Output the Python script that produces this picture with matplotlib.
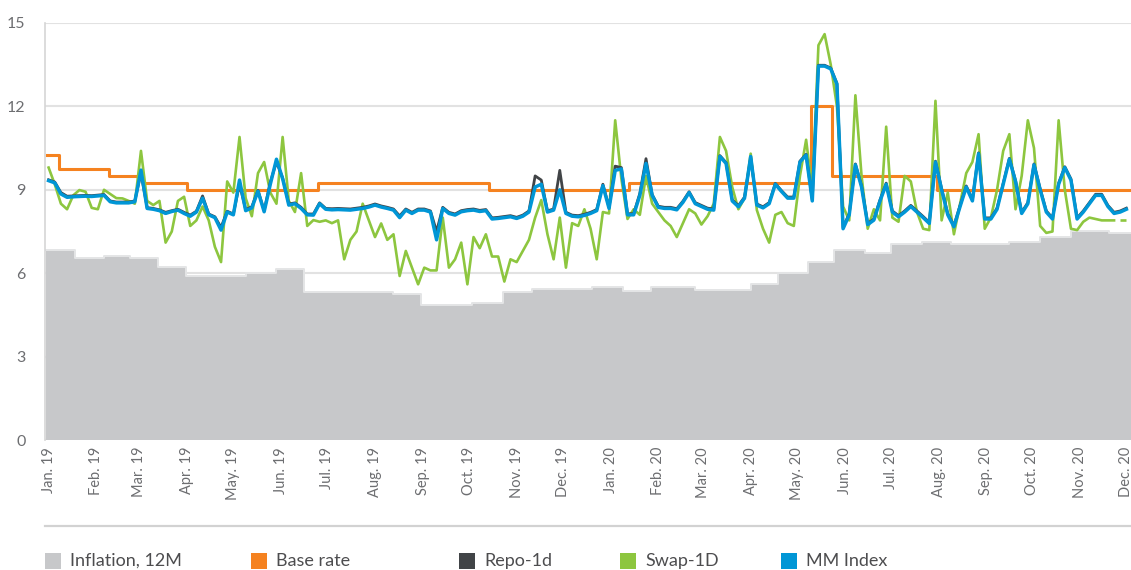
import matplotlib
matplotlib.use("Agg")
import matplotlib.pyplot as plt
import matplotlib.dates as mdates
from matplotlib.patches import Rectangle
from matplotlib.lines import Line2D
import pandas as pd

plt.rcParams['font.family'] = ['Lato', 'DejaVu Sans']

# ---- data ----
# daily-ish series sampled every 4 days from 2019-01-01
obs_dates = pd.date_range('2019-01-01', periods=176, freq='4D')

mm_index = [9.33, 9.25, 8.85, 8.73, 8.75, 8.76, 8.77, 8.76, 8.78, 8.80,
            8.57, 8.53, 8.53, 8.53, 8.57, 9.71, 8.33, 8.30, 8.25, 8.15,
            8.22, 8.27, 8.15, 8.05, 8.20, 8.70, 8.10, 8.00, 7.55, 8.20,
            8.10, 9.35, 8.25, 8.35, 8.95, 8.21, 9.20, 10.10, 9.40, 8.45,
            8.50, 8.33, 8.10, 8.09, 8.50, 8.30, 8.28, 8.29, 8.28, 8.27,
            8.30, 8.33, 8.38, 8.45, 8.38, 8.33, 8.27, 8.00, 8.27, 8.15,
            8.27, 8.27, 8.20, 7.20, 8.33, 8.15, 8.09, 8.21, 8.25, 8.27,
            8.22, 8.25, 7.95, 7.97, 8.00, 8.03, 7.97, 8.05, 8.20, 9.10,
            9.20, 8.20, 8.27, 9.00, 8.15, 8.05, 8.03, 8.08, 8.15, 8.25,
            9.15, 8.33, 9.70, 9.75, 8.10, 8.10, 8.80, 9.95, 8.80, 8.37,
            8.33, 8.33, 8.28, 8.55, 8.90, 8.50, 8.40, 8.30, 8.27, 10.20,
            9.95, 8.60, 8.39, 8.70, 10.20, 8.45, 8.35, 8.50, 9.20, 8.94,
            8.70, 8.70, 10.00, 10.25, 8.60, 13.45, 13.45, 13.35, 12.80, 7.60,
            8.10, 9.90, 9.10, 7.75, 7.91, 8.60, 9.20, 8.20, 8.03, 8.20,
            8.40, 8.20, 8.00, 7.79, 10.00, 9.00, 8.10, 7.67, 8.40, 9.10,
            8.60, 10.30, 7.95, 7.95, 8.30, 9.20, 10.10, 9.30, 8.15, 8.50,
            9.90, 9.00, 8.20, 7.95, 9.20, 9.80, 9.35, 7.95, 8.20, 8.50,
            8.80, 8.80, 8.40, 8.15, 8.20, 8.30]

repo_1d = [9.36, 9.28, 8.90, 8.77, 8.78, 8.79, 8.80, 8.79, 8.81, 8.83,
           8.60, 8.56, 8.56, 8.56, 8.60, 9.60, 8.36, 8.33, 8.28, 8.19,
           8.25, 8.30, 8.19, 8.09, 8.23, 8.78, 8.13, 8.03, 7.65, 8.23,
           8.13, 9.20, 8.29, 8.39, 8.98, 8.25, 9.28, 10.00, 9.43, 8.49,
           8.53, 8.37, 8.13, 8.13, 8.53, 8.33, 8.32, 8.33, 8.32, 8.31,
           8.34, 8.37, 8.42, 8.49, 8.42, 8.37, 8.31, 8.06, 8.31, 8.19,
           8.31, 8.31, 8.24, 7.50, 8.37, 8.19, 8.13, 8.25, 8.29, 8.31,
           8.26, 8.29, 7.99, 8.01, 8.04, 8.07, 8.01, 8.09, 8.24, 9.50,
           9.35, 8.24, 8.31, 9.70, 8.19, 8.09, 8.07, 8.12, 8.19, 8.29,
           9.20, 8.37, 9.85, 9.80, 8.14, 8.14, 8.87, 10.12, 8.83, 8.41,
           8.37, 8.37, 8.32, 8.59, 8.93, 8.54, 8.44, 8.34, 8.31, 10.23,
           9.98, 8.64, 8.43, 8.74, 10.15, 8.49, 8.39, 8.54, 9.23, 8.97,
           8.74, 8.74, 10.03, 10.28, 8.64, 13.48, 13.48, 13.38, 12.83, 7.65,
           8.14, 9.93, 9.14, 7.79, 7.95, 8.64, 9.24, 8.24, 8.07, 8.24,
           8.44, 8.24, 8.04, 7.83, 10.03, 9.04, 8.14, 7.71, 8.44, 9.14,
           8.64, 10.33, 7.99, 7.99, 8.34, 9.24, 10.13, 9.34, 8.19, 8.54,
           9.93, 9.04, 8.24, 7.99, 9.24, 9.83, 9.39, 7.99, 8.24, 8.54,
           8.84, 8.84, 8.44, 8.19, 8.24, 8.34]

swap_1d = [9.80, 9.20, 8.50, 8.30, 8.80, 8.99, 8.93, 8.35, 8.30, 9.00,
           8.85, 8.70, 8.69, 8.60, 8.50, 10.40, 8.60, 8.45, 8.60, 7.10,
           7.50, 8.60, 8.75, 7.70, 7.90, 8.40, 7.90, 6.95, 6.40, 9.30,
           8.90, 10.90, 8.70, 8.05, 9.60, 10.00, 8.90, 8.50, 10.90, 8.60,
           8.20, 9.60, 7.70, 7.91, 7.85, 7.90, 7.80, 7.90, 6.50, 7.20,
           7.50, 8.50, 7.90, 7.30, 7.79, 7.20, 7.40, 5.90, 6.80, 6.20,
           5.60, 6.20, 6.10, 6.10, 8.00, 6.20, 6.50, 7.10, 5.60, 7.30,
           6.90, 7.40, 6.60, 6.60, 5.70, 6.50, 6.40, 6.80, 7.20, 8.00,
           8.63, 7.40, 6.50, 8.00, 6.20, 7.80, 7.70, 8.30, 7.60, 6.50,
           8.20, 8.15, 11.50, 9.40, 7.95, 8.30, 8.10, 9.50, 8.50, 8.20,
           7.90, 7.70, 7.30, 7.80, 8.30, 8.15, 7.75, 8.05, 8.50, 10.90,
           10.40, 9.10, 8.30, 8.70, 10.30, 8.27, 7.60, 7.10, 8.10, 8.20,
           7.80, 7.70, 9.50, 10.80, 9.00, 14.20, 14.60, 13.50, 12.00, 8.40,
           7.90, 12.40, 9.50, 7.60, 8.30, 7.90, 11.27, 8.00, 7.85, 9.50,
           9.30, 8.20, 7.60, 7.55, 12.20, 7.90, 8.90, 7.40, 8.50, 9.60,
           10.00, 11.00, 7.60, 8.00, 9.00, 10.40, 11.00, 8.30, 9.50, 11.50,
           10.50, 7.70, 7.45, 7.50, 11.50, 9.00, 7.60, 7.55, 7.85, 8.00,
           7.95, 7.90, 7.90, 7.90, 7.90, 7.90]
swap_dashed_from = '2020-11-24'

base_dates = ['2018-12-31', '2019-01-08', '2019-02-09', '2019-03-03', '2019-04-01',
              '2019-06-25', '2019-10-14', '2020-01-13', '2020-05-10', '2020-05-24',
              '2020-07-31', '2020-12-06']
base_rate = [10.25, 9.75, 9.5, 9.25, 9.0, 9.25, 9.0, 9.25, 12.0, 9.5, 9.0, 9.0]

infl_dates = ['2018-12-30', '2019-01-18', '2019-02-06', '2019-02-23', '2019-03-13',
              '2019-03-31', '2019-05-09', '2019-05-29', '2019-06-16', '2019-08-13',
              '2019-08-31', '2019-10-03', '2019-10-23', '2019-11-11', '2019-12-20',
              '2020-01-09', '2020-01-27', '2020-02-25', '2020-04-01', '2020-04-19',
              '2020-05-08', '2020-05-25', '2020-06-14', '2020-07-01', '2020-07-21',
              '2020-08-09', '2020-09-16', '2020-10-06', '2020-10-26', '2020-11-20',
              '2020-12-06']
inflation = [6.83, 6.53, 6.63, 6.53, 6.24, 5.90, 6.02, 6.14, 5.33, 5.24,
             4.86, 4.94, 5.33, 5.43, 5.51, 5.36, 5.51, 5.41, 5.62, 6.00,
             6.40, 6.83, 6.71, 7.04, 7.13, 7.05, 7.13, 7.29, 7.52, 7.43, 7.43]

legend_labels = ['Inflation, 12M', 'Base rate', 'Repo-1d', 'Swap-1D', 'MM Index']

# ---- colours ----
C_INFL = '#c7c8ca'
C_BASE = '#f58220'
C_REPO = '#414447'
C_SWAP = '#8dc63f'
C_MM = '#0096d6'
C_TEXT = '#6d6e71'

W, H = 1131, 570
fig = plt.figure(figsize=(W / 100, H / 100), dpi=100)
ax = fig.add_axes([45 / W, 1 - 440 / H, 1 - 45 / W, (440 - 23) / H])

idate = pd.to_datetime(infl_dates)
ax.fill_between(idate, inflation, 0, step='post', color=C_INFL, lw=0, zorder=1)
ax.step(idate, inflation, where='post', color='#e4e5e6', lw=1.4, zorder=1.5)

ax.step(pd.to_datetime(base_dates), base_rate, where='post', color=C_BASE, lw=2.2, zorder=3)

sw = pd.Series(swap_1d, index=obs_dates)
cut = pd.Timestamp(swap_dashed_from)
ax.plot(sw[sw.index <= cut].index, sw[sw.index <= cut].values, color=C_SWAP, lw=1.9, zorder=4)
ax.plot(sw[sw.index >= cut].index, sw[sw.index >= cut].values, color=C_SWAP, lw=1.9,
        ls=(0, (3, 2)), zorder=4)

ax.plot(obs_dates, repo_1d, color=C_REPO, lw=2.0, zorder=5)
ax.plot(obs_dates, mm_index, color=C_MM, lw=2.5, zorder=6)

ax.set_ylim(0, 15)
ax.set_yticks([0, 3, 6, 9, 12, 15])
ax.set_xlim(pd.Timestamp('2018-12-29 16:00'), pd.Timestamp('2020-12-04'))
ax.xaxis.set_major_locator(mdates.MonthLocator())
ax.xaxis.set_major_formatter(mdates.DateFormatter('%b. %y'))
ax.tick_params(axis='x', length=0, pad=5, labelsize=10.5, colors=C_TEXT)
ax.tick_params(axis='y', length=0, pad=14, labelsize=11.5, colors=C_TEXT)
plt.setp(ax.get_xticklabels(), rotation=90, ha='center', va='top')

ax.grid(axis='y', color='#e2e2e2', lw=1.5, zorder=0)
ax.set_axisbelow(True)
for s in ['top', 'right', 'bottom']:
    ax.spines[s].set_visible(False)
ax.spines['left'].set_color('#d5d5d5')
ax.spines['left'].set_linewidth(1.2)

# separator line above the legend
fig.add_artist(Line2D([45 / W, 1], [1 - 526 / H] * 2, color='#d2d2d2', lw=1.6))

# legend
legend_colors = [C_INFL, C_BASE, C_REPO, C_SWAP, C_MM]
legend_x = [45, 251, 459, 620, 781]
for lx, col, lab in zip(legend_x, legend_colors, legend_labels):
    fig.add_artist(Rectangle((lx / W, 1 - 569 / H), 16 / W, 16 / H,
                             transform=fig.transFigure, color=col, lw=0))
    fig.text((lx + 25) / W, 1 - 561 / H, lab, fontsize=13, color='#4d4d4f',
             va='center', ha='left')

fig.savefig('out.png', dpi=100)
